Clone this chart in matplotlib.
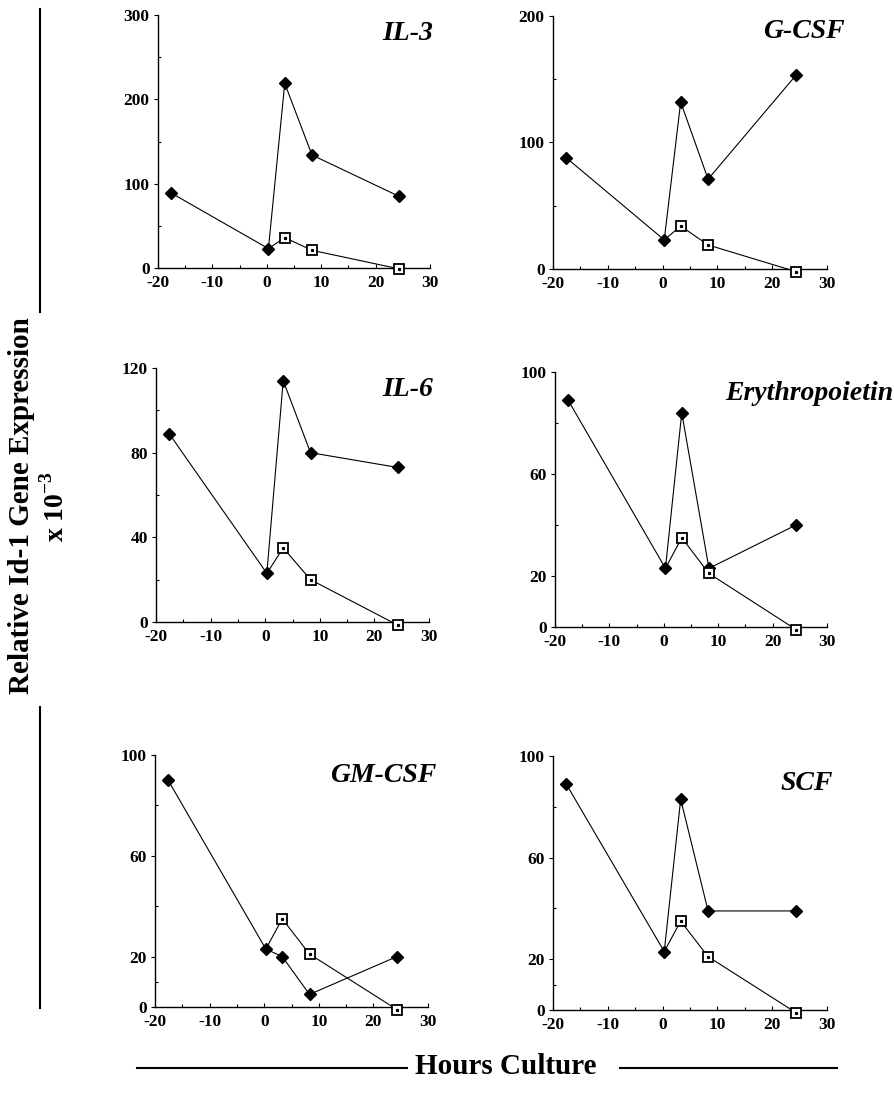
import numpy as np
import matplotlib
matplotlib.use("Agg")
import matplotlib.pyplot as plt

plt.rcParams['font.family'] = ['Liberation Serif', 'DejaVu Serif']
plt.rcParams['mathtext.fontset'] = 'custom'
plt.rcParams['mathtext.rm'] = 'Liberation Serif:bold'
plt.rcParams['mathtext.bf'] = 'Liberation Serif:bold'

# time points (hours of culture)
hours = [-17.6, 0.3, 3.3, 8.3, 24.3]
hours_open = [0.3, 3.3, 8.3, 24.3]

factors = ["IL-3", "G-CSF", "IL-6", "Erythropoietin", "GM-CSF", "SCF"]

# filled diamonds: with factor
il3_filled = [89, 23, 219, 134, 85]
gcsf_filled = [88, 23, 132, 71, 153]
il6_filled = [89, 23, 114, 80, 73]
epo_filled = [89, 23, 84, 23, 40]
gmcsf_filled = [90, 23, 20, 5, 20]
scf_filled = [89, 23, 83, 39, 39]

# open squares: no factor (first point shared with the t=0 value)
il3_open = [23, 36, 21, -1]
gcsf_open = [23, 34, 19, -2]
il6_open = [23, 35, 20, -1.5]
epo_open = [23, 35, 21, -1]
gmcsf_open = [23, 35, 21, -1]
scf_open = [23, 35, 21, -1]

filled_all = [il3_filled, gcsf_filled, il6_filled, epo_filled, gmcsf_filled, scf_filled]
open_all = [il3_open, gcsf_open, il6_open, epo_open, gmcsf_open, scf_open]

ymax = [300, 200, 120, 100, 100, 100]
yticks_major = [[0, 100, 200, 300], [0, 100, 200], [0, 40, 80, 120],
                [0, 20, 60, 100], [0, 20, 60, 100], [0, 20, 60, 100]]
yticks_minor = [[50, 150, 250], [50, 150], [20, 60, 100],
                [40, 80], [10, 40, 80], [10, 40, 80]]
xticks_major = [-20, -10, 0, 10, 20, 30]
xticks_minor = [-15, -5, 5, 15, 25]

# layout in pixels (x0, y0, x1, y1) from top-left
W, H = 895, 1097
boxes = [(158, 15, 430, 268), (553, 16, 827, 269),
         (156, 368, 429, 622), (555, 372, 827, 627),
         (155, 755, 428, 1007), (553, 756, 827, 1010)]
title_pos = [(433, 33), (845, 32), (433, 390), (893, 393), (436, 775), (833, 783)]

fig = plt.figure(figsize=(W / 100, H / 100), dpi=100)

for i in range(6):
    x0, y0, x1, y1 = boxes[i]
    ax = fig.add_axes([x0 / W, 1 - y1 / H, (x1 - x0) / W, (y1 - y0) / H])
    ax.set_xlim(-20, 30)
    ax.set_ylim(0, ymax[i])
    for s in ['top', 'right']:
        ax.spines[s].set_visible(False)
    for s in ['left', 'bottom']:
        ax.spines[s].set_linewidth(1.0)

    # open series line + markers
    ax.plot(hours_open, open_all[i], color='black', lw=0.8, zorder=2, clip_on=False)
    ax.plot(hours_open[1:], open_all[i][1:], ls='none', marker='s', ms=7,
            mfc='white', mec='black', mew=1.3, zorder=4, clip_on=False)
    ax.plot(hours_open[1:], open_all[i][1:], ls='none', marker='s', ms=1.3,
            color='black', zorder=5, clip_on=False)
    # filled series
    ax.plot(hours, filled_all[i], color='black', lw=0.8, marker='D', ms=6,
            mfc='black', mec='black', zorder=3, clip_on=False)

    ax.set_xticks(xticks_major)
    ax.set_xticks(xticks_minor, minor=True)
    ax.set_yticks(yticks_major[i])
    ax.set_yticks(yticks_minor[i], minor=True)
    ax.set_xticklabels([str(v) for v in xticks_major])
    ax.set_yticklabels([str(v) for v in yticks_major[i]])
    ax.tick_params(axis='x', which='major', direction='in', length=3, width=0.8,
                   pad=5, labelsize=12.5)
    ax.tick_params(axis='x', which='minor', direction='in', length=2, width=0.8)
    ax.tick_params(axis='y', which='major', direction='out', length=3, width=0.8,
                   pad=3, labelsize=12.5)
    ax.tick_params(axis='y', which='minor', direction='in', length=2, width=0.8)
    for lab in ax.get_xticklabels() + ax.get_yticklabels():
        lab.set_fontweight('bold')

    tx, ty = title_pos[i]
    fig.text(tx / W, 1 - ty / H, factors[i], ha='right', va='center',
             fontsize=20, fontweight='bold', fontstyle='italic')

# shared y label with rules
fig.text(22 / W, 1 - 506 / H, "Relative Id-1 Gene Expression", rotation=90,
         ha='center', va='center', fontsize=21, fontweight='bold')
fig.text(55 / W, 1 - 506 / H, r"x 10$^{-3}$", rotation=90,
         ha='center', va='center', fontsize=20, fontweight='bold')
fig.add_artist(plt.Line2D([40 / W, 40 / W], [1 - 9 / H, 1 - 312 / H],
                          color='black', lw=1.5))
fig.add_artist(plt.Line2D([40 / W, 40 / W], [1 - 707 / H, 1 - 1008 / H],
                          color='black', lw=1.5))

# shared x label with rules
fig.text(506 / W, 1 - 1066 / H, "Hours Culture", ha='center', va='center',
         fontsize=21, fontweight='bold')
fig.add_artist(plt.Line2D([137 / W, 407 / W], [1 - 1068 / H, 1 - 1068 / H],
                          color='black', lw=1.5))
fig.add_artist(plt.Line2D([620 / W, 837 / W], [1 - 1068 / H, 1 - 1068 / H],
                          color='black', lw=1.5))

fig.savefig("out.png", dpi=100)
